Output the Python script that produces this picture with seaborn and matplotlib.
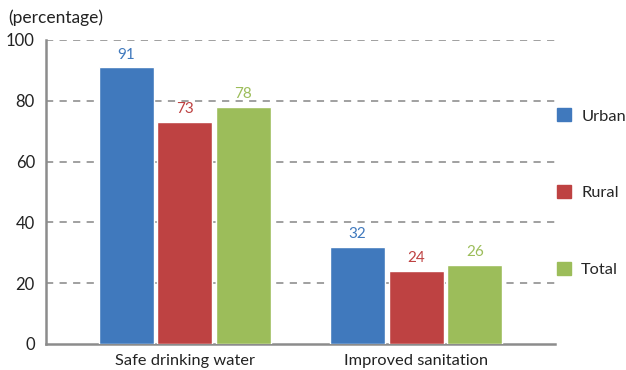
import matplotlib
matplotlib.use("Agg")
import matplotlib.pyplot as plt
import matplotlib.patches as mpatches
import seaborn as sns
import pandas as pd

# Access to services, by area of residence
categories = ["Safe drinking water", "Improved sanitation"]
areas = ["Urban", "Rural", "Total"]
urban = [91, 32]
rural = [73, 24]
total = [78, 26]
y_ticks = [0, 20, 40, 60, 80, 100]

colors = {"Urban": "#4079BD", "Rural": "#BE4242", "Total": "#9CBD5A"}

df = pd.DataFrame({
    "category": categories * 3,
    "area": [a for a in areas for _ in categories],
    "value": urban + rural + total,
})

sns.set_theme(style="white")
plt.rcParams["font.family"] = ["Lato", "DejaVu Sans"]

fig = plt.figure(figsize=(6.26, 3.70), dpi=100)
ax = fig.add_axes([0.0735, 0.0703, 0.813, 0.822])

sns.barplot(data=df, x="category", y="value", hue="area", order=categories,
            hue_order=areas, palette=colors, width=0.76, gap=0.065,
            saturation=1, legend=False, ax=ax, zorder=3)

for container, area in zip(ax.containers, areas):
    ax.bar_label(container, fmt="%d", padding=4, color=colors[area], fontsize=11)

ax.set_ylim(0, 100)
ax.set_xlim(-0.6, 1.6)
ax.set_yticks(y_ticks)
ax.set_xlabel("")
ax.set_ylabel("")

grey = "#8c8c8c"
for y in y_ticks[1:]:
    ax.axhline(y, color="#999999", lw=1.3, ls=(0, (4, 3.5)), zorder=1)

for side in ["top", "right"]:
    ax.spines[side].set_visible(False)
for side in ["left", "bottom"]:
    ax.spines[side].set_color(grey)
    ax.spines[side].set_linewidth(1.8)

ax.tick_params(axis="y", length=0, labelsize=12, colors="#222222", pad=8)
ax.tick_params(axis="x", which="major", length=5, width=1.8, color=grey,
               labelsize=11.8, labelcolor="#222222", pad=2, direction="out")
ax.set_xticks([-0.6, 1.6], minor=True)
ax.tick_params(axis="x", which="minor", length=5, width=1.8, color=grey, direction="out")

fig.text(0.013, 0.952, "(percentage)", fontsize=12.5, color="#222222",
         ha="left", va="center")

handles = [mpatches.Patch(color=colors[a], label=a) for a in areas]
fig.legend(handles=handles, loc="upper left", bbox_to_anchor=(0.88, 0.725),
           frameon=False, fontsize=11.8, handlelength=0.85, handleheight=0.85,
           handletextpad=0.6, labelspacing=3.75, borderaxespad=0)

fig.savefig("out.png", dpi=100)
